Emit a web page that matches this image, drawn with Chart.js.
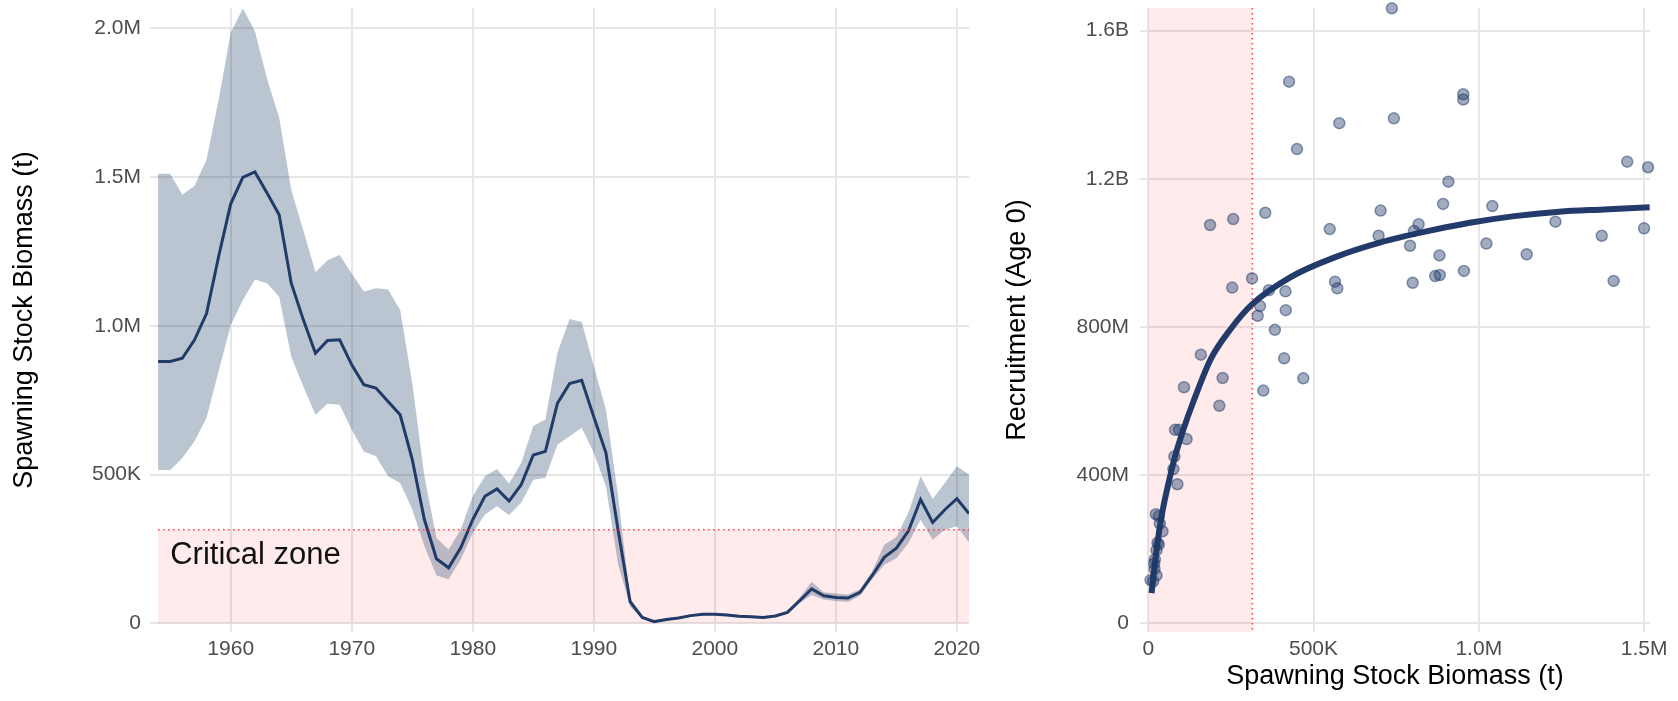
<!DOCTYPE html>
<html>
<head>
<meta charset="utf-8">
<script src="https://cdn.jsdelivr.net/npm/chart.js@4.4.1/dist/chart.umd.min.js"></script>
<style>
  html, body { margin: 0; padding: 0; background: #fff; }
  #wrap { position: relative; width: 1678px; height: 701px; }
  #ssbChart { position: absolute; left: 0; top: 0; }
  #srChart { position: absolute; left: 985px; top: 0; }
</style>
</head>
<body>
<div id="wrap">
  <canvas id="ssbChart" width="985" height="701"></canvas>
  <canvas id="srChart" width="693" height="701"></canvas>
</div>
<script>
// ---- данные: биомасса нерестового запаса (тыс. т) по годам ----
const years = [
  1954, 1955, 1956, 1957, 1958, 1959, 1960, 1961, 1962, 1963, 1964, 1965, 1966, 1967,
  1968, 1969, 1970, 1971, 1972, 1973, 1974, 1975, 1976, 1977, 1978, 1979, 1980, 1981,
  1982, 1983, 1984, 1985, 1986, 1987, 1988, 1989, 1990, 1991, 1992, 1993, 1994, 1995,
  1996, 1997, 1998, 1999, 2000, 2001, 2002, 2003, 2004, 2005, 2006, 2007, 2008, 2009,
  2010, 2011, 2012, 2013, 2014, 2015, 2016, 2017, 2018, 2019, 2020, 2021
];
const ssbMedian = [
  880, 880, 891, 952, 1041, 1233, 1410, 1499, 1517, 1446, 1373, 1143, 1020, 908,
  951, 953, 869, 802, 791, 746, 701, 550, 349, 217, 187, 254, 349, 427,
  452, 411, 466, 566, 578, 740, 806, 817, 694, 573, 315, 73, 20, 6,
  13, 18, 26, 31, 31, 28, 24, 22, 20, 25, 37, 76, 116, 93,
  87, 85, 104, 161, 222, 253, 311, 416, 339, 382, 419, 369
];
const ssbLower = [
  515, 515, 556, 612, 690, 847, 1002, 1087, 1156, 1143, 1098, 897, 796, 701,
  738, 735, 651, 578, 562, 494, 472, 383, 260, 161, 148, 215, 304, 366,
  394, 364, 405, 483, 489, 601, 629, 657, 573, 461, 200, 56, 16, 4,
  10, 15, 22, 27, 27, 24, 20, 18, 16, 21, 32, 68, 95, 80,
  75, 72, 93, 148, 197, 219, 270, 348, 281, 315, 326, 272
];
const ssbUpper = [
  1511, 1511, 1440, 1470, 1558, 1760, 1985, 2066, 1990, 1830, 1700, 1457, 1320, 1180,
  1220, 1238, 1176, 1115, 1126, 1122, 1053, 808, 494, 287, 248, 315, 427, 494,
  519, 470, 539, 663, 685, 910, 1023, 1013, 865, 719, 430, 84, 24, 9,
  17, 22, 30, 35, 35, 32, 28, 26, 24, 29, 43, 86, 140, 105,
  100, 97, 115, 175, 264, 290, 373, 494, 418, 472, 528, 500
];

// ---- данные: запас-пополнение (SSB, тыс. т; пополнение, млн) ----
const srSsb = [
  737, 426, 953, 953, 743, 578, 450, 1449, 1512, 908, 892, 1041, 703, 354,
  257, 187, 818, 804, 549, 1232, 1500, 1372, 697, 1023, 792, 1145, 881, 955,
  882, 868, 800, 1408, 565, 572, 314, 254, 365, 415, 338, 416, 331, 383,
  159, 411, 225, 469, 108, 348, 215, 81, 93, 116, 79, 76, 88, 23,
  32, 35, 43, 28, 32, 25, 20, 18, 19, 25, 7, 15
];
const srRecruits = [
  1660, 1462, 1428, 1414, 1363, 1350, 1280, 1246, 1231, 1192, 1132, 1126, 1114, 1108,
  1091, 1075, 1077, 1059, 1064, 1084, 1066, 1046, 1046, 1025, 1019, 996, 993, 951,
  940, 937, 919, 924, 922, 904, 931, 906, 899, 896, 856, 845, 830, 792,
  725, 715, 662, 661, 637, 628, 587, 522, 522, 497, 450, 416, 375, 294,
  289, 269, 248, 217, 212, 197, 172, 161, 146, 129, 116, 113
];
// кривая модели
const curveSsb = [10, 25, 40, 61, 81, 106, 136, 189, 250, 313, 432, 568, 703, 838, 973, 1108, 1243, 1378, 1517];
const curveRecruits = [81, 197, 287, 377, 450, 522, 597, 713, 795, 860, 935, 989, 1028, 1057, 1081, 1099, 1111, 1117, 1123];

// ---- оси ----
const criticalSsb = 315;
const yearTicks = [1960, 1970, 1980, 1990, 2000, 2010, 2020];
const ssbTicks = [0, 500, 1000, 1500, 2000];
const ssbTickLabels = ['0', '500K', '1.0M', '1.5M', '2.0M'];
const srSsbTicks = [0, 500, 1000, 1500];
const srSsbTickLabels = ['0', '500K', '1.0M', '1.5M'];
const recTicks = [0, 400, 800, 1200, 1600];
const recTickLabels = ['0', '400M', '800M', '1.2B', '1.6B'];

const navy = '#233B6B';
const gridColor = '#E6E6E6';
const tickColor = '#4D4D4D';
const FONT = "'Liberation Sans', Arial, sans-serif";

Chart.defaults.font.family = FONT;

// фиксированные размеры осей, чтобы область графика совпала с оригиналом
function fixWidth(w) {
  return (scale) => { scale.width = w; scale.paddingTop = 0; scale.paddingBottom = 0; };
}
function fixHeight(h) {
  return (scale) => { scale.height = h; scale.paddingLeft = 0; scale.paddingRight = 0; };
}
function setTicks(values) {
  return (scale) => { scale.ticks = values.map((v) => ({ value: v })); };
}

function axisTitle(text, padding) {
  return { display: true, text, color: '#000', font: { size: 27 }, padding };
}

// Критическая зона на графике биомассы
const criticalZoneSsb = {
  id: 'criticalZoneSsb',
  beforeDatasetsDraw(chart) {
    const { ctx, scales: { x, y } } = chart;
    const x0 = x.getPixelForValue(years[0]);
    const x1 = x.getPixelForValue(years[years.length - 1]);
    const yTop = y.getPixelForValue(criticalSsb);
    const yBot = y.getPixelForValue(0);
    ctx.save();
    ctx.fillStyle = 'rgba(255, 0, 0, 0.08)';
    ctx.fillRect(x0, yTop, x1 - x0, yBot - yTop);
    ctx.restore();
  },
  afterDatasetsDraw(chart) {
    const { ctx, scales: { x, y } } = chart;
    const x0 = x.getPixelForValue(years[0]);
    const x1 = x.getPixelForValue(years[years.length - 1]);
    const yc = y.getPixelForValue(criticalSsb);
    ctx.save();
    ctx.strokeStyle = 'rgba(255, 40, 40, 0.9)';
    ctx.lineWidth = 1.5;
    ctx.setLineDash([1.5, 3.5]);
    ctx.beginPath();
    ctx.moveTo(x0, yc);
    ctx.lineTo(x1, yc);
    ctx.stroke();
    ctx.setLineDash([]);
    ctx.fillStyle = '#111';
    ctx.font = `31px ${FONT}`;
    ctx.textAlign = 'left';
    ctx.textBaseline = 'middle';
    ctx.fillText('Critical zone', x.getPixelForValue(1955), y.getPixelForValue(229));
    ctx.restore();
  },
};

// Критическая зона на графике запас-пополнение
const criticalZoneSr = {
  id: 'criticalZoneSr',
  beforeDatasetsDraw(chart) {
    const { ctx, chartArea, scales: { x } } = chart;
    const x0 = x.getPixelForValue(0);
    const x1 = x.getPixelForValue(criticalSsb);
    ctx.save();
    ctx.fillStyle = 'rgba(255, 0, 0, 0.08)';
    ctx.fillRect(x0, chartArea.top, x1 - x0, chartArea.bottom - chartArea.top);
    ctx.strokeStyle = 'rgba(255, 40, 40, 0.9)';
    ctx.lineWidth = 1.5;
    ctx.setLineDash([1.5, 3.5]);
    ctx.beginPath();
    ctx.moveTo(x1, chartArea.top);
    ctx.lineTo(x1, chartArea.bottom);
    ctx.stroke();
    ctx.restore();
  },
};

const toXY = (xs, ys) => xs.map((v, i) => ({ x: v, y: ys[i] }));

new Chart(document.getElementById('ssbChart').getContext('2d'), {
  type: 'line',
  data: {
    datasets: [
      {
        label: 'upper',
        data: toXY(years, ssbUpper),
        borderWidth: 0,
        pointRadius: 0,
        fill: false,
      },
      {
        label: 'lower',
        data: toXY(years, ssbLower),
        borderWidth: 0,
        pointRadius: 0,
        backgroundColor: 'rgba(31, 58, 104, 0.3)',
        fill: '-1',
      },
      {
        label: 'SSB',
        data: toXY(years, ssbMedian),
        borderColor: navy,
        borderWidth: 3,
        pointRadius: 0,
        fill: false,
      },
    ],
  },
  options: {
    responsive: false,
    animation: false,
    devicePixelRatio: 1,
    layout: { padding: { top: 8, right: 16, left: 0, bottom: 0 } },
    plugins: { legend: { display: false }, tooltip: { enabled: false } },
    scales: {
      x: {
        type: 'linear',
        min: 1953.33,
        max: 2021,
        afterBuildTicks: setTicks(yearTicks),
        afterFit: fixHeight(69),
        grid: { color: gridColor, lineWidth: 2, drawTicks: false },
        border: { display: false },
        ticks: { color: tickColor, font: { size: 21 }, padding: 5, maxRotation: 0, callback: (v) => String(v) },
      },
      y: {
        type: 'linear',
        min: -29,
        max: 2068,
        afterBuildTicks: setTicks(ssbTicks),
        afterFit: fixWidth(150),
        grid: { color: gridColor, lineWidth: 2, drawTicks: false },
        border: { display: false },
        ticks: { color: tickColor, font: { size: 21 }, padding: 9, callback: (v, i) => ssbTickLabels[i] },
        title: axisTitle('Spawning Stock Biomass (t)', { top: 8, bottom: 0 }),
      },
    },
  },
  plugins: [criticalZoneSsb],
});

new Chart(document.getElementById('srChart').getContext('2d'), {
  type: 'scatter',
  data: {
    datasets: [
      {
        label: 'observed',
        data: toXY(srSsb, srRecruits),
        pointRadius: 5.5,
        backgroundColor: 'rgba(31, 58, 104, 0.42)',
        borderColor: 'rgba(31, 58, 104, 0.5)',
        borderWidth: 1.5,
        clip: false,
      },
      {
        label: 'fit',
        data: toXY(curveSsb, curveRecruits),
        showLine: true,
        borderColor: navy,
        borderWidth: 6,
        pointRadius: 0,
        cubicInterpolationMode: 'monotone',
        fill: false,
      },
    ],
  },
  options: {
    responsive: false,
    animation: false,
    devicePixelRatio: 1,
    layout: { padding: { top: 8, right: 28, left: 0, bottom: 0 } },
    plugins: { legend: { display: false }, tooltip: { enabled: false } },
    scales: {
      x: {
        type: 'linear',
        min: -25,
        max: 1518,
        afterBuildTicks: setTicks(srSsbTicks),
        afterFit: fixHeight(69),
        grid: { color: gridColor, lineWidth: 2, drawTicks: false },
        border: { display: false },
        ticks: { color: tickColor, font: { size: 21 }, padding: 5, maxRotation: 0, callback: (v, i) => srSsbTickLabels[i] },
        title: axisTitle('Spawning Stock Biomass (t)', { top: 0, bottom: 8 }),
      },
      y: {
        type: 'linear',
        min: -24,
        max: 1661,
        afterBuildTicks: setTicks(recTicks),
        afterFit: fixWidth(155),
        grid: { color: gridColor, lineWidth: 2, drawTicks: false },
        border: { display: false },
        ticks: { color: tickColor, font: { size: 21 }, padding: 11, callback: (v, i) => recTickLabels[i] },
        title: axisTitle('Recruitment (Age 0)', { top: 16, bottom: 0 }),
      },
    },
  },
  plugins: [criticalZoneSr],
});
</script>
</body>
</html>
